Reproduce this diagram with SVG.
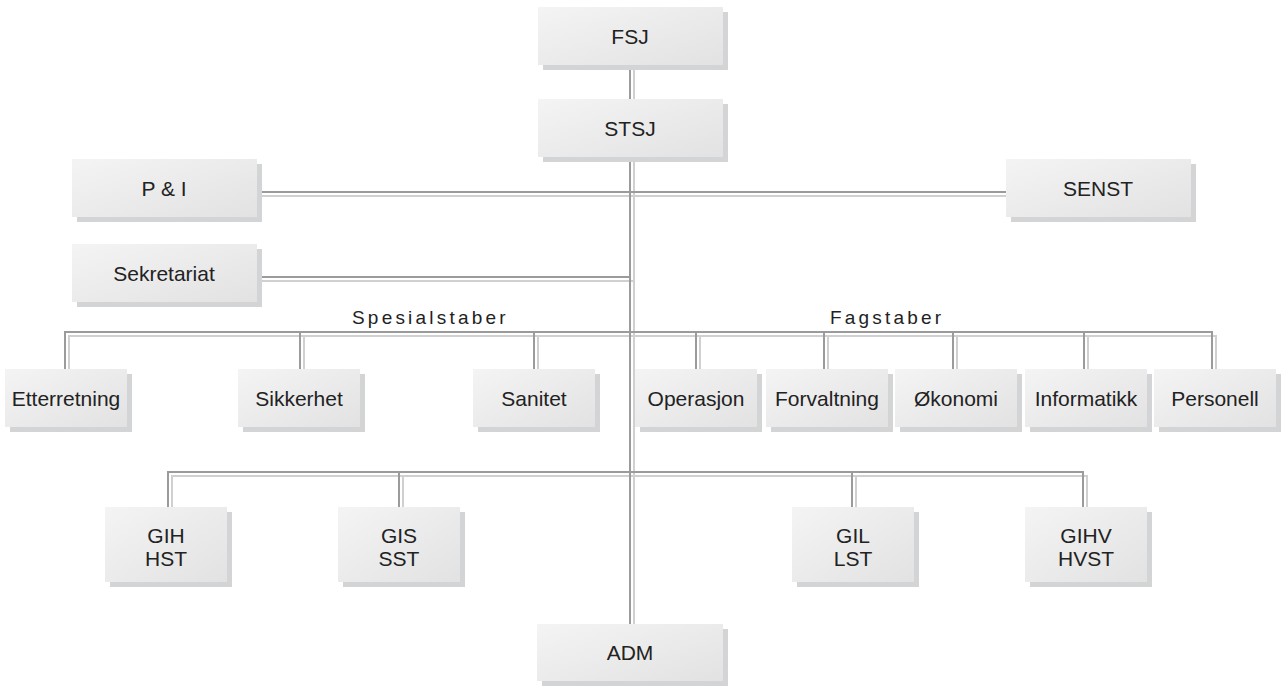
<svg xmlns="http://www.w3.org/2000/svg" width="1281" height="686" viewBox="0 0 1281 686">
<style>
.sh{fill:#d3d4d6}
.bx{fill:url(#g)}
.t{font-family:"Liberation Sans",Arial,sans-serif;font-size:21px;fill:#222;text-anchor:middle}
.grp{font-family:"Liberation Sans",Arial,sans-serif;font-size:19px;fill:#222;letter-spacing:3.2px}
.dk{fill:none;stroke:#9b9b9b;stroke-width:2}
.lt{fill:none;stroke:#d0d0d0;stroke-width:2}
</style>
<defs>
<linearGradient id="g" x1="0" y1="0" x2="1" y2="1">
<stop offset="0" stop-color="#f4f4f4"/>
<stop offset="1" stop-color="#e2e2e2"/>
</linearGradient>
<path id="conn" d="M630,65V624 M257,192H1006 M257,277H630 M65,369V332H1212V369 M300,332V369 M534,332V369 M696,332V369 M824,332V369 M953,332V369 M1084,332V369 M168,507V472H1083V507 M399,472V507 M852,472V507"/>
</defs>
<rect width="1281" height="686" fill="#fff"/>
<g id="connectors">
<use href="#conn" class="lt" transform="translate(4,4)"/>
<use href="#conn" class="dk"/>
</g>
<g id="labels">
<text class="grp" x="352" y="324">Spesialstaber</text>
<text class="grp" x="830" y="324">Fagstaber</text>
</g>
<g id="n-fsj"><rect class="sh" x="543" y="12" width="185" height="58"/><rect class="bx" x="538" y="7" width="185" height="58"/><text class="t" x="630" y="44">FSJ</text></g>
<g id="n-stsj"><rect class="sh" x="543" y="104" width="185" height="58"/><rect class="bx" x="538" y="99" width="185" height="58"/><text class="t" x="630" y="136">STSJ</text></g>
<g id="n-pi"><rect class="sh" x="77" y="164" width="185" height="58"/><rect class="bx" x="72" y="159" width="185" height="58"/><text class="t" x="164" y="196">P &amp; I</text></g>
<g id="n-senst"><rect class="sh" x="1011" y="164" width="185" height="58"/><rect class="bx" x="1006" y="159" width="185" height="58"/><text class="t" x="1098" y="196">SENST</text></g>
<g id="n-sekretariat"><rect class="sh" x="77" y="249" width="185" height="58"/><rect class="bx" x="72" y="244" width="185" height="58"/><text class="t" x="164" y="281">Sekretariat</text></g>
<g id="n-etterretning"><rect class="sh" x="10" y="374" width="122" height="58"/><rect class="bx" x="5" y="369" width="122" height="58"/><text class="t" x="66" y="406">Etterretning</text></g>
<g id="n-sikkerhet"><rect class="sh" x="243" y="374" width="122" height="58"/><rect class="bx" x="238" y="369" width="122" height="58"/><text class="t" x="299" y="406">Sikkerhet</text></g>
<g id="n-sanitet"><rect class="sh" x="478" y="374" width="122" height="58"/><rect class="bx" x="473" y="369" width="122" height="58"/><text class="t" x="534" y="406">Sanitet</text></g>
<g id="n-operasjon"><rect class="sh" x="640" y="374" width="122" height="58"/><rect class="bx" x="635" y="369" width="122" height="58"/><text class="t" x="696" y="406">Operasjon</text></g>
<g id="n-forvaltning"><rect class="sh" x="771" y="374" width="122" height="58"/><rect class="bx" x="766" y="369" width="122" height="58"/><text class="t" x="827" y="406">Forvaltning</text></g>
<g id="n-okonomi"><rect class="sh" x="900" y="374" width="122" height="58"/><rect class="bx" x="895" y="369" width="122" height="58"/><text class="t" x="956" y="406">Økonomi</text></g>
<g id="n-informatikk"><rect class="sh" x="1030" y="374" width="122" height="58"/><rect class="bx" x="1025" y="369" width="122" height="58"/><text class="t" x="1086" y="406">Informatikk</text></g>
<g id="n-personell"><rect class="sh" x="1159" y="374" width="122" height="58"/><rect class="bx" x="1154" y="369" width="122" height="58"/><text class="t" x="1215" y="406">Personell</text></g>
<g id="n-gih"><rect class="sh" x="110" y="512" width="122" height="75"/><rect class="bx" x="105" y="507" width="122" height="75"/><text class="t" x="166" y="543">GIH</text><text class="t" x="166" y="566">HST</text></g>
<g id="n-gis"><rect class="sh" x="343" y="512" width="122" height="75"/><rect class="bx" x="338" y="507" width="122" height="75"/><text class="t" x="399" y="543">GIS</text><text class="t" x="399" y="566">SST</text></g>
<g id="n-gil"><rect class="sh" x="797" y="512" width="122" height="75"/><rect class="bx" x="792" y="507" width="122" height="75"/><text class="t" x="853" y="543">GIL</text><text class="t" x="853" y="566">LST</text></g>
<g id="n-gihv"><rect class="sh" x="1030" y="512" width="122" height="75"/><rect class="bx" x="1025" y="507" width="122" height="75"/><text class="t" x="1086" y="543">GIHV</text><text class="t" x="1086" y="566">HVST</text></g>
<g id="n-adm"><rect class="sh" x="542" y="629" width="186" height="57"/><rect class="bx" x="537" y="624" width="186" height="57"/><text class="t" x="630" y="660">ADM</text></g>
</svg>
